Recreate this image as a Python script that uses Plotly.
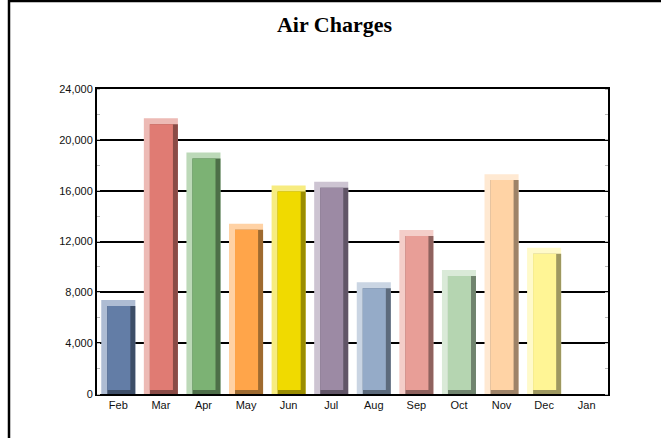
import plotly.graph_objects as go

# ---- data ----
months = ["Feb", "Mar", "Apr", "May", "Jun", "Jul", "Aug", "Sep", "Oct", "Nov", "Dec", "Jan"]
air_charges = [7400, 21700, 19000, 13400, 16400, 16700, 8800, 12900, 9750, 17300, 11500, None]
y_ticks = [0, 4000, 8000, 12000, 16000, 20000, 24000]

# ---- styles ----
face = ["#637DA6", "#E07B73", "#7CB274", "#FFA54A", "#F0DA00", "#9C8AA4",
        "#95ABC8", "#E89E97", "#B5D5B1", "#FFD3A5", "#FFF595", "#CCCCCC"]
light = ["#AEBCD3", "#EDBAB5", "#BCD9B8", "#FFD2A5", "#F7EC80", "#CDC4D2",
         "#CAD5E3", "#F4CEC9", "#DAEAD8", "#FFE9D2", "#FFFACA", "#EEEEEE"]
dark = ["#3D4E68", "#8A4B46", "#4D6E48", "#9E6A30", "#9A8C00", "#615567",
        "#5C6A7C", "#8F625E", "#70846E", "#9E8368", "#9E9860", "#888888"]

BAR_W = 0.8
LB, RB = 0.141, 0.117        # left / right bevel (category units)
TB, BB = 470, 310            # top / bottom bevel (value units)

vals = air_charges
top_inner = [None if v is None else v - TB for v in vals]
face_h = [None if v is None else v - TB - BB for v in vals]

fig = go.Figure()
# light outer bevel
fig.add_trace(go.Bar(x=months, y=vals, width=BAR_W, offset=-BAR_W / 2,
                     marker=dict(color=light, line=dict(width=0)), hoverinfo="skip"))
# dark right/bottom bevel
fig.add_trace(go.Bar(x=months, y=top_inner, width=BAR_W - LB, offset=-BAR_W / 2 + LB,
                     marker=dict(color=dark, line=dict(width=0)), hoverinfo="skip"))
# face
fig.add_trace(go.Bar(x=months, y=face_h, base=BB, width=BAR_W - LB - RB,
                     offset=-BAR_W / 2 + LB,
                     marker=dict(color=face, line=dict(width=0)),
                     customdata=vals, hovertemplate="%{x}: %{customdata:,}<extra></extra>"))

L, R, T, B = 97, 53, 89, 44
W, H = 661, 438
plot_w = W - L - R
plot_h = H - T - B

fig.update_layout(
    width=W, height=H,
    margin=dict(l=L, r=R, t=T, b=B),
    barmode="overlay",
    showlegend=False,
    plot_bgcolor="white", paper_bgcolor="white",
    font=dict(family="Liberation Sans, Arial, sans-serif", size=11, color="#111111"),
    title=dict(text="<b>Air Charges</b>", x=0.506, xanchor="center", xref="container",
               y=1 - 24 / H, yanchor="middle", yref="container",
               font=dict(family="Liberation Serif, Times New Roman, serif", size=22, color="#000000")),
    xaxis=dict(categoryorder="array", categoryarray=months, showline=True, linecolor="black",
               linewidth=2, mirror=True, showgrid=False, ticks="", zeroline=False,
               tickfont=dict(size=11)),
    yaxis=dict(range=[0, 24000], tickvals=y_ticks, tickformat=",", showline=True,
               linecolor="black", linewidth=2, mirror="all", showgrid=True,
               gridcolor="black", gridwidth=2, zeroline=False, ticks="",
               minor=dict(dtick=2000, ticks="inside", ticklen=3, tickcolor="#BBBBBB",
                          tickwidth=1, showgrid=False),
               tickfont=dict(size=11)),
    shapes=[dict(type="rect", xref="paper", yref="paper",
                 x0=(9 - L) / plot_w, x1=(W + 20 - L) / plot_w,
                 y0=-(B + 20) / plot_h, y1=(H - B - 1) / plot_h,
                 line=dict(color="black", width=2.5), layer="below")],
)

fig.write_html("out.html", config={"displayModeBar": False},
               post_script="document.body.style.margin='0';")
